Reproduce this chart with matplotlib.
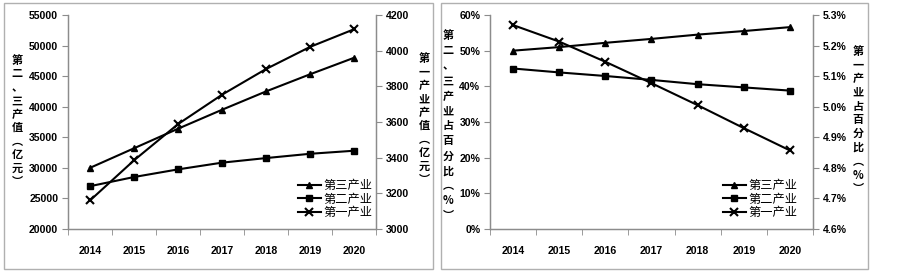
import matplotlib
matplotlib.use("Agg")
import matplotlib.pyplot as plt
from matplotlib.patches import Rectangle
from matplotlib.ticker import FuncFormatter, FixedLocator

plt.rcParams['font.family'] = ['Noto Sans CJK SC', 'DejaVu Sans']

years = ['2014', '2015', '2016', '2017', '2018', '2019', '2020']

# output values (100 million yuan)
tertiary_val = [30000, 33200, 36400, 39500, 42500, 45300, 48000]
secondary_val = [27000, 28500, 29750, 30850, 31600, 32300, 32800]
primary_val = [3160, 3385, 3588, 3753, 3897, 4021, 4120]

# shares (%)
tertiary_pct = [50.0, 51.0, 52.2, 53.3, 54.5, 55.5, 56.6]
secondary_pct = [45.0, 43.9, 42.9, 41.8, 40.6, 39.7, 38.8]
primary_pct = [5.267, 5.213, 5.147, 5.077, 5.005, 4.930, 4.857]

W, H = 903, 271
fig = plt.figure(figsize=(W / 100, H / 100), dpi=100)

GRAY = '#8c8c8c'
TICKFONT = dict(family='Liberation Sans', weight='bold', size=7.6)


def box(px0, py0, px1, py1):
    return [px0 / W, 1 - py1 / H, (px1 - px0) / W, (py1 - py0) / H]


def style_axes(ax, ax2):
    x = range(len(years))
    for a in (ax, ax2):
        a.set_xlim(-0.5, len(years) - 0.5)
        a.spines['top'].set_visible(False)
        for s in ('left', 'right', 'bottom'):
            a.spines[s].set_color(GRAY)
            a.spines[s].set_linewidth(0.9)
        a.tick_params(axis='y', length=4, color=GRAY, pad=3)
        for lab in a.get_yticklabels():
            lab.set_fontproperties(matplotlib.font_manager.FontProperties(**TICKFONT))
    ax.set_xticks(list(x))
    ax.set_xticklabels(years)
    for lab in ax.get_xticklabels():
        lab.set_fontproperties(matplotlib.font_manager.FontProperties(**TICKFONT))
    ax.tick_params(axis='x', which='major', length=0, pad=12)
    ax.xaxis.set_minor_locator(FixedLocator([i - 0.5 for i in range(len(years) + 1)]))
    ax.tick_params(axis='x', which='minor', length=4, color=GRAY)


def draw_lines(ax, ax2, t, s, p):
    x = range(len(years))
    l1, = ax.plot(x, t, color='black', lw=1.5, marker='^', ms=5, label='第三产业')
    l2, = ax.plot(x, s, color='black', lw=1.5, marker='s', ms=4.5, label='第二产业')
    l3, = ax2.plot(x, p, color='black', lw=1.5, marker='x', ms=5.5, mew=1.5, label='第一产业')
    return [l1, l2, l3]


def vlabel(xp, yp, text, spacing):
    fig.text(xp / W, 1 - yp / H, '\n'.join(text), ha='center', va='center',
             fontsize=8, fontweight='bold', linespacing=spacing, color='black')


# frames
for r in (box(4, 3, 433, 269), box(441, 3, 868, 269)):
    fig.add_artist(Rectangle((r[0], r[1]), r[2], r[3], transform=fig.transFigure,
                             fill=False, edgecolor='#b0b0b0', lw=1.0))

# left panel
ax = fig.add_axes(box(68, 15, 376, 229))
ax2 = ax.twinx()
lines = draw_lines(ax, ax2, tertiary_val, secondary_val, primary_val)
ax.set_ylim(20000, 55000)
ax.set_yticks(range(20000, 55001, 5000))
ax2.set_ylim(3000, 4200)
ax2.set_yticks(range(3000, 4201, 200))
style_axes(ax, ax2)
fig.legend(handles=lines, loc='center', bbox_to_anchor=(335 / W, 1 - 199 / H),
           frameon=False, fontsize=8.8, handlelength=1.9, handletextpad=0.2,
           labelspacing=0.05, borderpad=0)
vlabel(17, 121, ['第', '二', '、', '三', '产', '值', '︵', '亿', '元', '︶'], 1.05)
vlabel(424, 119, ['第', '一', '产', '业', '产', '值', '︵', '亿', '元', '︶'], 1.05)

# right panel
bx = fig.add_axes(box(490, 15, 813, 229))
bx2 = bx.twinx()
lines = draw_lines(bx, bx2, tertiary_pct, secondary_pct, primary_pct)
bx.set_ylim(0, 60)
bx.set_yticks(range(0, 61, 10))
bx.yaxis.set_major_formatter(FuncFormatter(lambda v, pos: f'{v:.0f}%'))
bx2.set_ylim(4.6, 5.3)
bx2.set_yticks([4.6, 4.7, 4.8, 4.9, 5.0, 5.1, 5.2, 5.3])
bx2.yaxis.set_major_formatter(FuncFormatter(lambda v, pos: f'{v:.1f}%'))
style_axes(bx, bx2)
fig.legend(handles=lines, loc='center', bbox_to_anchor=(760 / W, 1 - 199 / H),
           frameon=False, fontsize=8.8, handlelength=1.9, handletextpad=0.2,
           labelspacing=0.05, borderpad=0)
vlabel(448, 126, ['第', '二', '、', '三', '产', '业', '占', '百', '分', '比', '︵', '%', '︶'], 1.2)
vlabel(858, 120, ['第', '一', '产', '业', '占', '百', '分', '比', '︵', '%', '︶'], 1.08)

fig.savefig('out.png', dpi=100)
